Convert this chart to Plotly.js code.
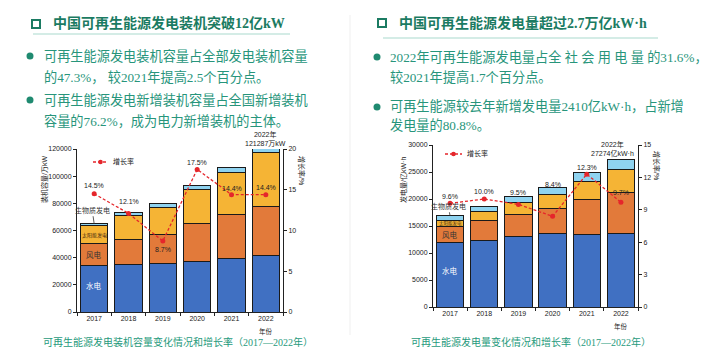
<!DOCTYPE html>
<html><head><meta charset="utf-8">
<script src="https://cdn.plot.ly/plotly-3.0.1.min.js"></script>
<style>html,body{margin:0;padding:0;background:#fff;}#chart{width:712px;height:361px;}</style>
</head><body><div id="chart"></div>
<script>
// ---- data ----
const years = ['2017','2018','2019','2020','2021','2022'];
// installed capacity, 万kW
const capHydro = [34119, 35226, 35804, 37016, 39094, 41350];
const capWind  = [16367, 18426, 21005, 28153, 32848, 36544];
const capSolar = [13025, 17463, 20468, 25343, 30656, 39261];
const capBio   = [1476, 1781, 2254, 2952, 3798, 4132];
const capGrowth = [14.5, 12.1, 8.7, 17.5, 14.4, 14.4];
// generation, 亿kWh
const genHydro = [11898, 12321, 13021, 13552, 13401, 13522];
const genWind  = [3034, 3660, 4057, 4665, 6556, 7627];
const genSolar = [1166, 1775, 2238, 2611, 3259, 4276];
const genBio   = [795, 906, 1111, 1326, 1637, 1849];
const genGrowth = [9.6, 10.0, 9.5, 8.4, 12.3, 9.7];
const seriesNames = ['水电','风电','太阳能发电','生物质发电'];
const capTicks = [0,20000,40000,60000,80000,100000,120000];
const capRateTicks = [0,5,10,15,20];
const genTicks = [0,5000,10000,15000,20000,25000,30000];
const genRateTicks = [0,3,6,9,12,15];

// ---- style ----
const W = 712, H = 361;
const px = x => x / W, py = y => 1 - y / H;
const colors = ['#4070c2', '#e27a3a', '#f5b435', '#8fd3f0'];
const red = '#e5262b';
const capLabShift = [8, 12, -8, 7, 6, 7];
const genLabShift = [7, 7, 12, 32, 7, 10];
const tickFont = {family: 'Liberation Sans, Noto Sans CJK SC', size: 7, color: '#222'};

const traces = [];
function addBars(xa, ya, arrs) {
  arrs.forEach((arr, i) => traces.push({
    type: 'bar', x: years, y: arr, xaxis: xa, yaxis: ya, name: seriesNames[i],
    marker: {color: colors[i], line: {color: '#1a1a1a', width: 1}}, hoverinfo: 'skip'
  }));
}
addBars('x', 'y', [capHydro, capWind, capSolar, capBio]);
addBars('x2', 'y3', [genHydro, genWind, genSolar, genBio]);
[['x','y2',capGrowth],['x2','y4',genGrowth]].forEach(([xa, ya, arr]) => traces.push({
  type: 'scatter', mode: 'lines+markers', x: years, y: arr, xaxis: xa, yaxis: ya, name: '增长率',
  line: {color: red, width: 1.3, dash: '3px,2px'}, marker: {color: red, size: 5}, hoverinfo: 'skip'
}));

const ann = [];
const shapes = [];
function txt(x, y, text, o) {
  ann.push(Object.assign({xref: 'paper', yref: 'paper', x: px(x), y: py(y), text: text, showarrow: false,
    xanchor: 'left', yanchor: 'middle'}, o || {}));
}
// growth labels (category index positions)
capGrowth.forEach((v, i) => ann.push({xref: 'x', yref: 'y2', x: i, y: v, text: v.toFixed(1) + '%',
  showarrow: false, yshift: capLabShift[i], font: tickFont}));
genGrowth.forEach((v, i) => ann.push({xref: 'x2', yref: 'y4', x: i, y: v, text: v.toFixed(1) + '%',
  showarrow: false, yshift: genLabShift[i], font: tickFont}));

// in-bar labels for the first year
function barLabels(xa, ya, h, w, s, b, solarSize, ay) {
  ann.push({xref: xa, yref: ya, x: 0, y: h[0] * 0.57, text: seriesNames[0], showarrow: false,
    font: {family: 'Noto Sans CJK SC', size: 7.5, color: '#fff'}});
  ann.push({xref: xa, yref: ya, x: 0, y: h[0] + w[0] / 2, text: seriesNames[1], showarrow: false,
    font: {family: 'Noto Sans CJK SC', size: 7.5, color: '#333'}});
  ann.push({xref: xa, yref: ya, x: 0, y: h[0] + w[0] + s[0] / 2, text: seriesNames[2], showarrow: false,
    font: {family: 'Noto Sans CJK SC', size: solarSize, color: '#4a2a10'}});
  ann.push({xref: xa, yref: ya, x: 0, y: h[0] + w[0] + s[0] + b[0], text: seriesNames[3], showarrow: true,
    arrowhead: 0, arrowwidth: 0.8, arrowcolor: '#333', ax: -2, ay: ay, standoff: 0,
    font: {family: 'Noto Sans CJK SC', size: 7, color: '#333'}});
}
barLabels('x', 'y', capHydro, capWind, capSolar, capBio, 5, -14);
barLabels('x2', 'y3', genHydro, genWind, genSolar, genBio, 4.5, -10);

// totals above last bar
const capTotal = capHydro[5] + capWind[5] + capSolar[5] + capBio[5];
const genTotal = genHydro[5] + genWind[5] + genSolar[5] + genBio[5];
ann.push({xref: 'x', yref: 'paper', x: 5, y: py(139), text: years[5] + '年<br>' + capTotal + '万kW',
  showarrow: false, font: tickFont, yanchor: 'middle'});
ann.push({xref: 'x2', yref: 'paper', x: 5, xshift: -8, y: py(149.5), text: years[5] + '年<br>' + genTotal + '亿kW·h',
  showarrow: false, font: tickFont, yanchor: 'middle'});
// 年份 (below the last tick label)
ann.push({xref: 'x', yref: 'paper', x: 5, y: py(325), yanchor: 'top', text: '年份', showarrow: false,
  font: {family: tickFont.family, size: 6.5, color: '#222'}});
ann.push({xref: 'x2', yref: 'paper', x: 5, y: py(320), yanchor: 'top', text: '年份', showarrow: false,
  font: {family: tickFont.family, size: 6.5, color: '#222'}});
// axis titles
txt(44, 180, '装机容量/万kW', {xanchor: 'center', textangle: -90, font: tickFont});
txt(301, 170, '增长率/%', {xanchor: 'center', textangle: 90, font: tickFont});
txt(403, 180, '发电量/亿kW·h', {xanchor: 'center', textangle: -90, font: tickFont});
txt(657, 165, '增长率/%', {xanchor: 'center', textangle: 90, font: tickFont});

// manual legends
[[93, 108, 162], [445, 462, 154]].forEach(([a, b, y]) => {
  shapes.push({type: 'line', xref: 'paper', yref: 'paper', x0: px(a), x1: px(b), y0: py(y), y1: py(y),
    line: {color: red, width: 1.3, dash: '3px,2px'}});
  const c = (a + b) / 2;
  shapes.push({type: 'circle', xref: 'paper', yref: 'paper', x0: px(c - 2.3), x1: px(c + 2.3), y0: py(y + 2.3), y1: py(y - 2.3),
    fillcolor: red, line: {width: 0}});
  txt(b + 3, y, '增长率', {font: tickFont});
});

// captions
const capFont = {family: 'Liberation Serif, Noto Sans CJK SC', size: 10, color: '#1f9a7c'};
txt(178, 342, '可再生能源发电装机容量变化情况和增长率（2017—2022年）', {xanchor: 'center', font: capFont});
txt(531, 342, '可再生能源发电量变化情况和增长率（2017—2022年）', {xanchor: 'center', font: capFont});

// headings
const headFont = {family: 'Liberation Serif, Noto Sans CJK SC', size: 14, color: '#1b7b62'};
txt(51, 23, '<b>中国可再生能源发电装机突破12亿kW</b>', {font: headFont});
txt(397, 23, '<b>中国可再生能源发电量超过2.7万亿kW·h</b>', {font: headFont});
[[32, 20], [378, 19]].forEach(([x, y]) => shapes.push({type: 'rect', xref: 'paper', yref: 'paper',
  x0: px(x), x1: px(x + 8), y0: py(y + 8), y1: py(y), line: {color: '#1b7b62', width: 2}}));
[[33, 290, 34], [383, 658, 38]].forEach(([a, b, y]) => shapes.push({type: 'line', xref: 'paper', yref: 'paper',
  x0: px(a), x1: px(b), y0: py(y), y1: py(y), line: {color: '#a9d9cd', width: 1}}));

// bullets and body text
const bodyFont = {family: 'Liberation Serif, Noto Sans CJK SC', size: 13.2, color: '#27957b'};
[[30, 56], [30, 100], [377, 57], [377, 107]].forEach(([x, y]) => shapes.push({type: 'circle', xref: 'paper', yref: 'paper',
  x0: px(x - 3.5), x1: px(x + 3.5), y0: py(y + 3.5), y1: py(y - 3.5), fillcolor: '#1f8a70', line: {width: 0}}));
txt(42, 56, '可再生能源发电装机容量占全部发电装机容量', {font: bodyFont});
txt(42, 77, '的47.3%， 较2021年提高2.5个百分点。', {font: bodyFont});
txt(42, 100, '可再生能源发电新增装机容量占全国新增装机', {font: bodyFont});
txt(42, 121, '容量的76.2%，成为电力新增装机的主体。', {font: bodyFont});
txt(388, 57, '2022年可再生能源发电量占全 社 会 用 电 量 的31.6%，', {font: bodyFont});
txt(388, 77, '较2021年提高1.7个百分点。', {font: bodyFont});
txt(388, 106, '可再生能源较去年新增发电量2410亿kW·h，占新增', {font: bodyFont});
txt(388, 125, '发电量的80.8%。', {font: bodyFont});

// separator
shapes.push({type: 'line', xref: 'paper', yref: 'paper', x0: px(350), x1: px(350), y0: py(15), y1: py(335),
  line: {color: '#efefef', width: 1}});

function xAxis(dom, anchor) {
  return {domain: dom, anchor: anchor, type: 'category', range: [-0.5, 5.5], showline: true, linecolor: '#222',
    linewidth: 1, ticks: 'outside', tickson: 'boundaries', ticklen: 3, tickcolor: '#222', tickfont: tickFont,
    showgrid: false, zeroline: false, fixedrange: true};
}
function yAxis(dom, anchor, range, vals, side, over) {
  const a = {anchor: anchor, range: range, tickvals: vals, ticktext: vals.map(String), side: side,
    showline: true, linecolor: '#222', linewidth: 1, ticks: 'outside', ticklen: 3, tickcolor: '#222',
    tickfont: tickFont, showgrid: false, zeroline: false, fixedrange: true};
  if (over) a.overlaying = over; else a.domain = dom;
  return a;
}
const layout = {
  width: W, height: H, margin: {l: 0, r: 0, t: 0, b: 0}, paper_bgcolor: '#fff', plot_bgcolor: 'rgba(0,0,0,0)',
  showlegend: false, barmode: 'stack', bargap: 0.2,
  font: {family: 'Liberation Sans, Noto Sans CJK SC', size: 7, color: '#222'},
  xaxis: xAxis([px(77), px(283)], 'y'),
  yaxis: yAxis([py(312), py(149)], 'x', [0, 120000], capTicks, 'left'),
  yaxis2: yAxis(null, 'x', [0, 20], capRateTicks, 'right', 'y'),
  xaxis2: xAxis([px(433), px(638)], 'y3'),
  yaxis3: yAxis([py(307), py(145)], 'x2', [0, 30000], genTicks, 'left'),
  yaxis4: yAxis(null, 'x2', [0, 15], genRateTicks, 'right', 'y3'),
  annotations: ann, shapes: shapes
};
Plotly.newPlot('chart', traces, layout, {staticPlot: true, displayModeBar: false});
</script></body></html>
